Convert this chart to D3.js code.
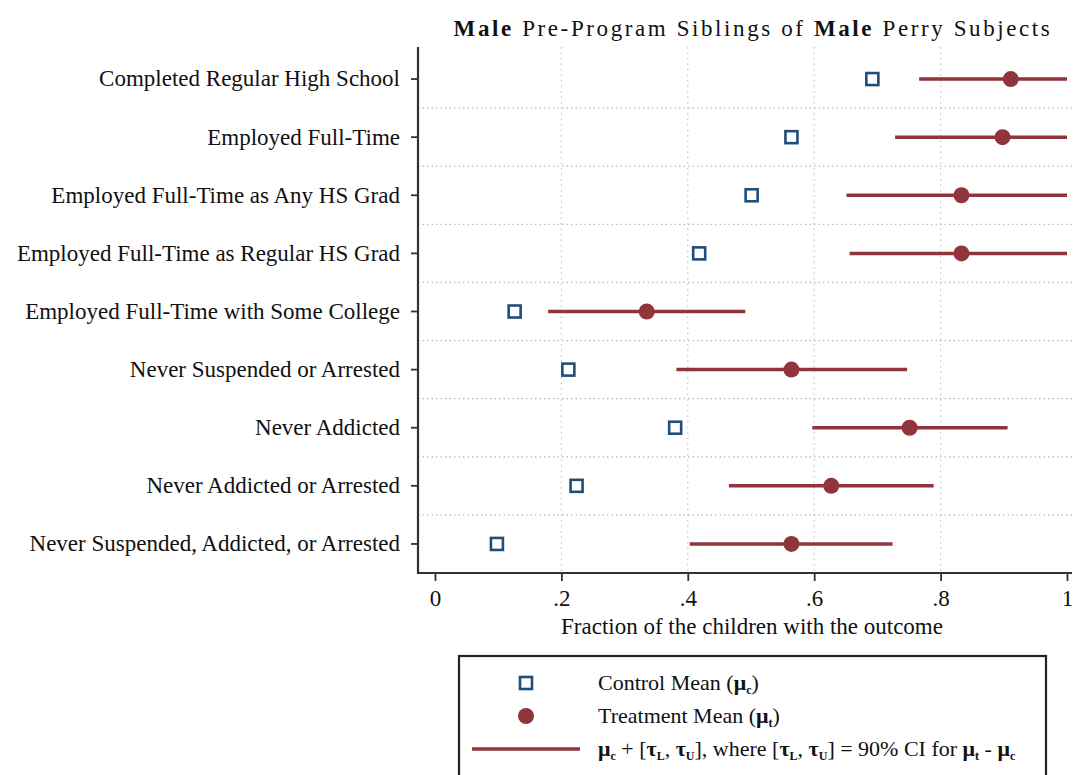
<!DOCTYPE html>
<html lang="en">
<head>
  <meta charset="UTF-8">
  <script src="https://cdn.jsdelivr.net/npm/d3@7/dist/d3.min.js"></script>
  <title>Male Pre-Program Siblings of Male Perry Subjects</title>
  <style>
    body { margin: 0; background: #fff; }
    svg text { font-family: "Liberation Serif", "DejaVu Serif", serif; fill: #111; }
  </style>
</head>
<body>
  <svg width="1076" height="775"></svg>

  <script>
    // data
    var outcomes = [
      "Completed Regular High School",
      "Employed Full-Time",
      "Employed Full-Time as Any HS Grad",
      "Employed Full-Time as Regular HS Grad",
      "Employed Full-Time with Some College",
      "Never Suspended or Arrested",
      "Never Addicted",
      "Never Addicted or Arrested",
      "Never Suspended, Addicted, or Arrested"
    ];
    var controlMean   = [0.692, 0.564, 0.501, 0.418, 0.126, 0.211, 0.380, 0.224, 0.098];
    var treatmentMean = [0.911, 0.898, 0.833, 0.833, 0.335, 0.564, 0.751, 0.627, 0.564];
    var ciLow         = [0.766, 0.728, 0.651, 0.656, 0.179, 0.382, 0.597, 0.465, 0.403];
    var ciHigh        = [1.000, 1.000, 1.000, 1.000, 0.491, 0.747, 0.906, 0.789, 0.724];
    var xTicks = [0, 0.2, 0.4, 0.6, 0.8, 1];

    var navy = "#1f4e79", maroon = "#90353b";

    var svg = d3.select("svg");
    var plot = { left: 418, right: 1072, top: 50, bottom: 573 };

    var x = d3.scaleLinear().domain([0, 1]).range([plot.left + 17, plot.right - 5]);
    var y = d3.scaleBand().domain(outcomes).range([plot.top, plot.bottom]);
    var yc = function(d){ return y(d) + y.bandwidth() / 2 };

    var rows = outcomes.map(function(d, i){
      return { name: d, c: controlMean[i], t: treatmentMean[i], lo: ciLow[i], hi: ciHigh[i] }
    });

    // title
    var title = svg.append("text")
      .attr("x", 753).attr("y", 36)
      .attr("text-anchor", "middle")
      .style("font-size", "23px")
      .style("letter-spacing", "2.6px");
    title.append("tspan").style("font-weight", "bold").text("Male");
    title.append("tspan").text(" Pre-Program Siblings of ");
    title.append("tspan").style("font-weight", "bold").text("Male");
    title.append("tspan").text(" Perry Subjects");

    // grid
    var grid = svg.append("g");
    grid.selectAll(".vg")
      .data(xTicks.filter(function(d){ return d > 0 && d < 1 }))
      .enter().append("line")
      .attr("x1", function(d){ return x(d) }).attr("x2", function(d){ return x(d) })
      .attr("y1", plot.top - 3).attr("y2", plot.bottom)
      .attr("stroke", "#c4c4c4").attr("stroke-width", 1.2)
      .attr("stroke-dasharray", "1.5,4");
    grid.selectAll(".hg")
      .data(outcomes.slice(1))
      .enter().append("line")
      .attr("x1", plot.left).attr("x2", plot.right)
      .attr("y1", function(d){ return y(d) }).attr("y2", function(d){ return y(d) })
      .attr("stroke", "#b8b8b8").attr("stroke-width", 1.2)
      .attr("stroke-dasharray", "1.5,3");

    // axes
    var fmt = function(d){ return d === 0 ? "0" : d === 1 ? "1" : String(d).replace("0.", ".") };
    var xAxis = svg.append("g")
      .attr("transform", "translate(0," + plot.bottom + ")")
      .call(d3.axisBottom(x).tickValues(xTicks).tickFormat(fmt).tickSize(8).tickPadding(9));
    var yAxis = svg.append("g")
      .attr("transform", "translate(" + plot.left + ",0)")
      .call(d3.axisLeft(y).tickSize(7).tickPadding(11));
    [xAxis, yAxis].forEach(function(a){
      a.select(".domain").remove();
      a.selectAll(".tick line").attr("stroke", "#333").attr("stroke-width", 1.8);
      a.selectAll(".tick text").attr("fill", "#111")
        .style("font-family", "'Liberation Serif', serif")
        .style("font-size", "23px");
    });

    svg.append("path")
      .attr("d", "M" + plot.left + "," + (plot.top - 3) + "V" + plot.bottom + "H" + plot.right)
      .attr("fill", "none").attr("stroke", "#333").attr("stroke-width", 2.2);

    svg.append("text")
      .attr("x", 752).attr("y", 634)
      .attr("text-anchor", "middle")
      .style("font-size", "23px")
      .text("Fraction of the children with the outcome");

    // CI lines
    svg.append("g").selectAll("line")
      .data(rows).enter().append("line")
      .attr("x1", function(d){ return x(d.lo) }).attr("x2", function(d){ return x(d.hi) })
      .attr("y1", function(d){ return yc(d.name) }).attr("y2", function(d){ return yc(d.name) })
      .attr("stroke", maroon).attr("stroke-width", 3.5);

    // treatment means
    svg.append("g").selectAll("circle")
      .data(rows).enter().append("circle")
      .attr("cx", function(d){ return x(d.t) }).attr("cy", function(d){ return yc(d.name) })
      .attr("r", 8).attr("fill", maroon);

    // control means
    var sq = 12;
    svg.append("g").selectAll("rect")
      .data(rows).enter().append("rect")
      .attr("x", function(d){ return x(d.c) - sq / 2 }).attr("y", function(d){ return yc(d.name) - sq / 2 })
      .attr("width", sq).attr("height", sq)
      .attr("fill", "#fff").attr("stroke", navy).attr("stroke-width", 2.6);

    // legend
    var lg = svg.append("g");
    lg.append("rect")
      .attr("x", 459).attr("y", 656).attr("width", 587).attr("height", 140)
      .attr("fill", "#fff").attr("stroke", "#222").attr("stroke-width", 2.2);
    lg.append("rect")
      .attr("x", 520).attr("y", 677).attr("width", sq).attr("height", sq)
      .attr("fill", "#fff").attr("stroke", navy).attr("stroke-width", 2.6);
    lg.append("circle").attr("cx", 526).attr("cy", 716).attr("r", 8).attr("fill", maroon);
    lg.append("line").attr("x1", 472).attr("x2", 580).attr("y1", 749).attr("y2", 749)
      .attr("stroke", maroon).attr("stroke-width", 3.5);

    function legendText(yy, parts) {
      var t = lg.append("text").attr("x", 598).attr("y", yy)
        .style("font-size", "22px");
      parts.forEach(function(p){
        var s = t.append("tspan").text(p[0]);
        if (p[1] === "b") s.style("font-weight", "bold");
        if (p[1] === "sub") s.style("font-weight", "bold").style("font-size", "12px").attr("dy", 4);
        if (p[1] === "up") s.attr("dy", -4);
      });
    }
    legendText(690, [["Control Mean ("], ["μ", "b"], ["c", "sub"], [")", "up"]]);
    legendText(723, [["Treatment Mean ("], ["μ", "b"], ["t", "sub"], [")", "up"]]);
    legendText(756, [["μ", "b"], ["c", "sub"], [" + [", "up"], ["τ", "b"], ["L", "sub"], [", ", "up"], ["τ", "b"], ["U", "sub"],
      ["], where [", "up"], ["τ", "b"], ["L", "sub"], [", ", "up"], ["τ", "b"], ["U", "sub"], ["] = 90% CI for ", "up"],
      ["μ", "b"], ["t", "sub"], [" - ", "up"], ["μ", "b"], ["c", "sub"]]);
  </script>
</body>
</html>
